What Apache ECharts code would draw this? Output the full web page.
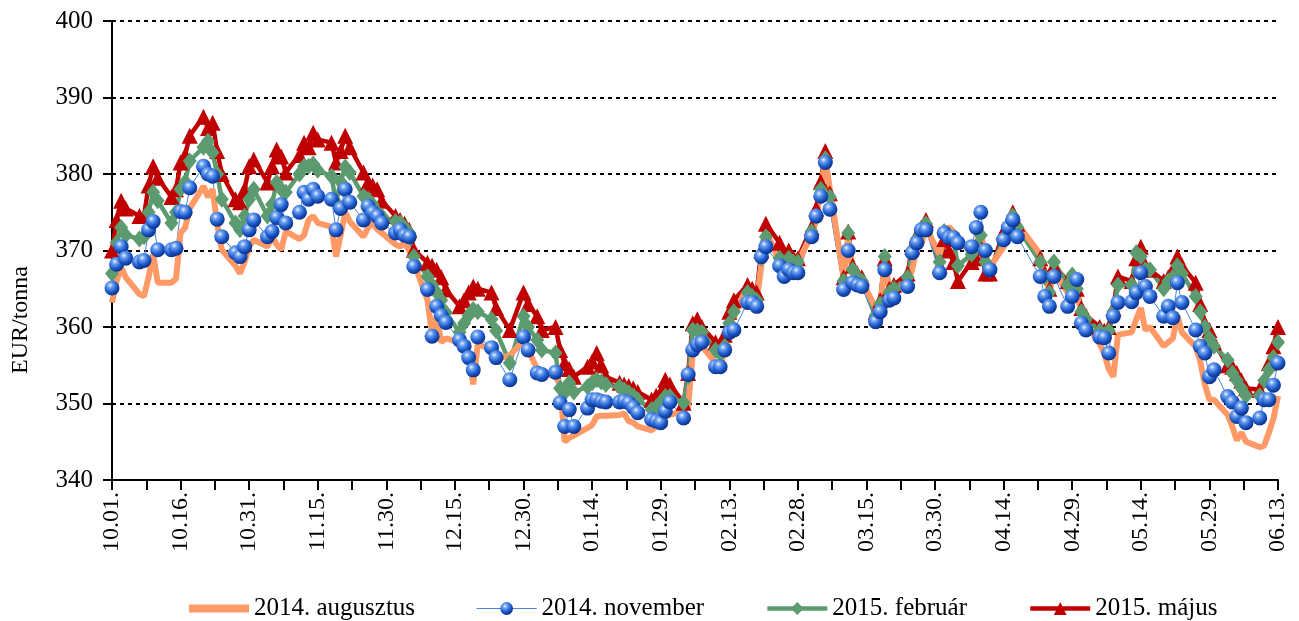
<!DOCTYPE html>
<html>
<head>
<meta charset="utf-8">
<script src="https://cdn.jsdelivr.net/npm/echarts@6/dist/echarts.min.js"></script>
<style>
html,body{margin:0;padding:0;background:#fff;}
#chart{width:1299px;height:621px;}
</style>
</head>
<body>
<div id="chart"></div>
<script>
// Trading days (MM.DD), Oct 2013 – Jun 2014
const dates = [
'10.01','10.02','10.03','10.04','10.07','10.08','10.09','10.10','10.11','10.14','10.15','10.16','10.17','10.18','10.21','10.22','10.23','10.24','10.25','10.28','10.29','10.30','10.31',
'11.01','11.04','11.05','11.06','11.07','11.08','11.11','11.12','11.13','11.14','11.15','11.18','11.19','11.20','11.21','11.22','11.25','11.26','11.27','11.28','11.29',
'12.02','12.03','12.04','12.05','12.06','12.09','12.10','12.11','12.12','12.13','12.16','12.17','12.18','12.19','12.20','12.23','12.24','12.27','12.30','12.31',
'01.02','01.03','01.06','01.07','01.08','01.09','01.10','01.13','01.14','01.15','01.16','01.17','01.20','01.21','01.22','01.23','01.24','01.27','01.28','01.29','01.30','01.31',
'02.03','02.04','02.05','02.06','02.07','02.10','02.11','02.12','02.13','02.14','02.17','02.18','02.19','02.20','02.21','02.24','02.25','02.26','02.27','02.28',
'03.03','03.04','03.05','03.06','03.07','03.10','03.11','03.12','03.13','03.14','03.17','03.18','03.19','03.20','03.21','03.24','03.25','03.26','03.27','03.28','03.31',
'04.01','04.02','04.03','04.04','04.07','04.08','04.09','04.10','04.11','04.14','04.15','04.16','04.17','04.22','04.23','04.24','04.25','04.28','04.29','04.30',
'05.01','05.02','05.05','05.06','05.07','05.08','05.09','05.12','05.13','05.14','05.15','05.16','05.19','05.20','05.21','05.22','05.23','05.26','05.27','05.28','05.29','05.30',
'06.02','06.03','06.04','06.05','06.06','06.09','06.10','06.11','06.12','06.13'
];

const xTickLabels = ['10.01.','10.16.','10.31.','11.15.','11.30.','12.15.','12.30.','01.14.','01.29.','02.13.','02.28.','03.15.','03.30.','04.14.','04.29.','05.14.','05.29.','06.13.'];

const seriesNames = ['2014. augusztus','2014. november','2015. február','2015. május'];

const aug14 = [
363.2,366,367.8,366.5,364.3,364,366.5,369.5,365.8,365.8,366.3,372.3,373,375.5,378.4,377,378,373.5,370.1,368,367,368.5,370.5,
371.4,370.5,371.8,370.8,370.1,372.5,371.5,372,374,374.5,373.6,373.1,369.2,372,375,373.8,371.8,373,373.6,372.8,372.3,
370.8,370.5,371,370,368.5,363.5,359,361.4,358,358.5,358,357,356.5,352.5,357.8,357,355.8,356.3,358.2,357,
354.5,354,353.5,352.5,345,345.5,345.8,346.8,347.2,348.3,348.4,348.4,348.5,348.7,347.7,347.5,347,346.5,347,347.7,348.3,348.5,
349,349.6,356.5,358,357.5,355.3,354.8,357,360.5,361.3,365.5,364.8,363.5,368,372.5,368.6,368,369.5,369.5,368.5,
372,374,378,382,378,366.5,371.4,367.5,366.5,366,362.5,362.5,368.4,365,364.2,366,367.5,370.5,370.8,373,369.5,
372,373.1,372.5,371,370,371,372.3,369.5,367.8,370.5,372.8,374.3,373.5,369.5,367.1,364.5,367.3,364.5,365.5,364,
362.3,360.5,357.8,356.5,354.5,353.5,359,359.3,361,362.5,359.6,360,357.5,358,358.5,361.5,359.3,357.4,355.5,352.5,350.5,350.5,
348.5,347,345.2,346.2,345,344.3,344.5,346.2,348,351
];

const nov14 = [
365.1,368.2,370.5,369,368.5,368.7,372.7,373.8,370.1,370.1,370.3,375.1,375,378.2,381,380,379.7,374.1,371.8,369.7,369.2,370.5,372.7,
374,371.8,372.5,374.3,376,373.6,375,377.6,376.7,378,377.1,376.7,372.7,375.5,378,376.3,374,375.8,375,374.5,373.6,
372.3,372.7,372,371.8,367.9,364.9,358.8,362.7,361.5,360.6,358.3,357.5,356,354.4,358.7,357.3,356,353.1,358.7,357,
354,353.8,354.1,350.1,347,349.2,347,349.4,350.5,350.5,350.3,350.2,350.2,350.3,350.1,349.5,348.8,347.9,347.7,347.5,349,350.2,
348.1,353.8,357,357.7,358,354.8,354.8,357,359.3,359.6,363.2,363.2,362.7,369.2,370.5,368,366.6,367.5,367.1,367.1,
371.8,374.5,377.1,381.5,375.4,364.9,370,365.8,365.5,365.3,360.7,362,367.5,363.5,363.8,365.3,369.7,371,372.7,372.7,367.1,
372.3,371.7,371.7,371,370.5,373,375,370,367.5,371.4,373,374,371.8,366.6,364,362.7,366.6,362.7,364,366.2,
360.5,359.6,358.7,358.6,356.6,361.4,363.2,363.3,364.5,367.1,365.3,364,361.4,362.7,361.2,365.8,363.2,359.6,357.5,356.6,353.5,354.4,
350.9,350.2,348.3,349.4,347.5,348.1,350.5,350.5,352.4,355.3
];

const feb15 = [
367,371,373,372,371.5,371.8,375,377.6,376.5,373.6,375,378,379,381.7,383.5,384.3,382.8,380,376.7,373.6,372.7,374.5,376.7,
378,374.5,376,378.9,378,377.6,380,381,381,381.3,380.5,379.7,376.3,379,380.9,380.2,377.1,376.7,376,375,374.5,
373.8,373.6,373,372.3,369.2,366.6,365.5,364.5,363.5,361.9,359.3,360.5,361.5,362.3,362,361,359.5,355.3,361.4,360,
358.3,357,356.6,352,351.4,352.7,351.5,352.2,352.7,353.1,352.8,352.5,352.2,351.8,351.4,351,350.5,349.2,349.5,350.2,350.9,350.9,
350.1,353.5,359.6,359.5,359.3,357,356.5,357.5,360.5,362,364.5,364,363.5,369,371.8,369,368,369,368.5,368.5,
372.5,374.5,378,382,377,366,372.3,367.5,366.5,366,361.5,363,369.2,364.5,365,366.5,370,371.5,372.5,373.5,368.5,
372.5,372,371.5,368,369.5,370.5,372,368.5,367.5,371.5,373,374.5,373,368.5,366.5,364.5,368.5,365.5,366.8,365,
362,361,359.5,359,359.5,362,365.5,365.5,369.7,369.2,367.5,367.5,365,366,366.5,368,367,364,362,360,358.5,357.5,
355.7,354,353,352,351,351,353,354.4,356,358
];

const may15 = [
370,374,376.5,375.5,374.5,374.5,378.5,381,379.5,377,378,381.5,382.5,385,387.5,386,386.7,383,380,376.7,376.3,378,381,
381.9,378.9,381,383.2,382.3,380.2,382.5,384.1,383.5,385.4,384.5,384.1,381.5,383,385,383.5,380.2,378.9,378.5,378,376.5,
374.5,374,373.5,372.7,370.1,368.4,368,367.5,366.5,364.9,362.7,363.5,364.5,365.3,365,364.5,362.5,359.6,364.5,363,
361.4,359.6,360,357,355.3,354.5,353.5,354.8,355.5,356.6,355,353.5,352.7,352.5,352.3,352,351.5,350.5,351,351.4,353.1,352.5,
350.1,354,360.5,361,360,358,357.5,359,362,363.5,365.5,365,364.5,370,373.5,371,369.5,370,369,369,
373,375.5,379,383,377.5,366.5,372.5,368,367,366.5,362,363.5,369,365,365.5,367,370.5,372,373,374,368,
371.5,370,368.5,366,368.5,369,370.5,367,367,372.5,373.5,375,373.5,369,367,365,368,366,366.5,365,
362.5,361.5,360,359.5,360,362.5,366.6,366,369,370.5,368,367.5,366,366.5,367.5,369.2,368,365.8,363,360.5,359.6,358,
355,354.8,354,353,352,351.8,353.1,355.3,357.5,360
];

// day offset from 2013-10-01 for each trading day
function dayIndex(s) {
  const m = parseInt(s.slice(0, 2), 10), d = parseInt(s.slice(3, 5), 10);
  const y = m >= 10 ? 2013 : 2014;
  return Math.round((Date.UTC(y, m - 1, d) - Date.UTC(2013, 9, 1)) / 86400000);
}
function pairs(vals) { return dates.map((s, i) => [dayIndex(s), vals[i]]); }

const FONT = "'Liberation Serif','Times New Roman',serif";
const chart = echarts.init(document.getElementById('chart'), null, {renderer: 'canvas'});

const sphere = {
  type: 'radial', x: 0.38, y: 0.32, r: 0.68,
  colorStops: [
    {offset: 0, color: '#eef4ff'},
    {offset: 0.25, color: '#6ea2f2'},
    {offset: 0.65, color: '#1f5ccc'},
    {offset: 1, color: '#0b2f88'}
  ]
};

chart.setOption({
  animation: false,
  backgroundColor: '#ffffff',
  grid: {left: 112, right: 21, top: 21, bottom: 141, containLabel: false},
  legend: {
    data: [
      {name: seriesNames[0], icon: 'path://M0,0 L60,0 L60,8 L0,8 Z'},
      {name: seriesNames[1]},
      {name: seriesNames[2]},
      {name: seriesNames[3]}
    ],
    left: 184, top: 591,
    itemWidth: 60, itemHeight: 16, itemGap: 61,
    lineStyle: {width: 'inherit'},
    textStyle: {fontFamily: FONT, fontSize: 25, color: '#000'}
  },
  graphic: [{
    type: 'text', x: 21, y: 320, rotation: Math.PI / 2,
    style: {text: 'EUR/tonna', font: "24px 'Liberation Serif', serif", fill: '#000', textAlign: 'center', textVerticalAlign: 'middle'}
  }],
  xAxis: {
    type: 'value', min: 0, max: 255, interval: 7.5,
    axisLine: {show: true, onZero: false, lineStyle: {color: '#000', width: 2}},
    axisTick: {show: true, length: 10, lineStyle: {color: '#000', width: 2}},
    splitLine: {show: false},
    axisLabel: {
      rotate: 90, margin: 12, fontFamily: FONT, fontSize: 24, color: '#000',
      formatter: function (v) {
        const k = v / 15;
        if (Math.abs(k - Math.round(k)) < 1e-6) return xTickLabels[Math.round(k)] || '';
        return '';
      }
    }
  },
  yAxis: {
    type: 'value', min: 340, max: 400, interval: 10,
    axisLine: {show: true, lineStyle: {color: '#000', width: 2}},
    axisTick: {show: true, length: 9, lineStyle: {color: '#000', width: 2}},
    axisLabel: {margin: 19, fontFamily: FONT, fontSize: 25, color: '#000'},
    splitLine: {show: true, lineStyle: {color: '#000', width: 2, type: [4, 4]}}
  },
  series: [
    {
      name: seriesNames[3], type: 'line', data: pairs(may15),
      symbol: 'triangle', symbolSize: [16, 16],
      itemStyle: {color: '#C00000'},
      lineStyle: {color: '#C00000', width: 4.5}
    },
    {
      name: seriesNames[2], type: 'line', data: pairs(feb15),
      symbol: 'diamond', symbolSize: [14, 17],
      itemStyle: {color: '#5B9B6F'},
      lineStyle: {color: '#5B9B6F', width: 4.5}
    },
    {
      name: seriesNames[1], type: 'line', data: pairs(nov14),
      symbol: 'circle', symbolSize: 15,
      itemStyle: {color: sphere},
      lineStyle: {color: '#4a86dc', width: 1}
    },
    {
      name: seriesNames[0], type: 'line', data: pairs(aug14),
      symbol: 'none', showSymbol: false,
      itemStyle: {color: '#FF9966'},
      lineStyle: {color: '#FF9966', width: 6}
    }
  ]
});
</script>
</body>
</html>
